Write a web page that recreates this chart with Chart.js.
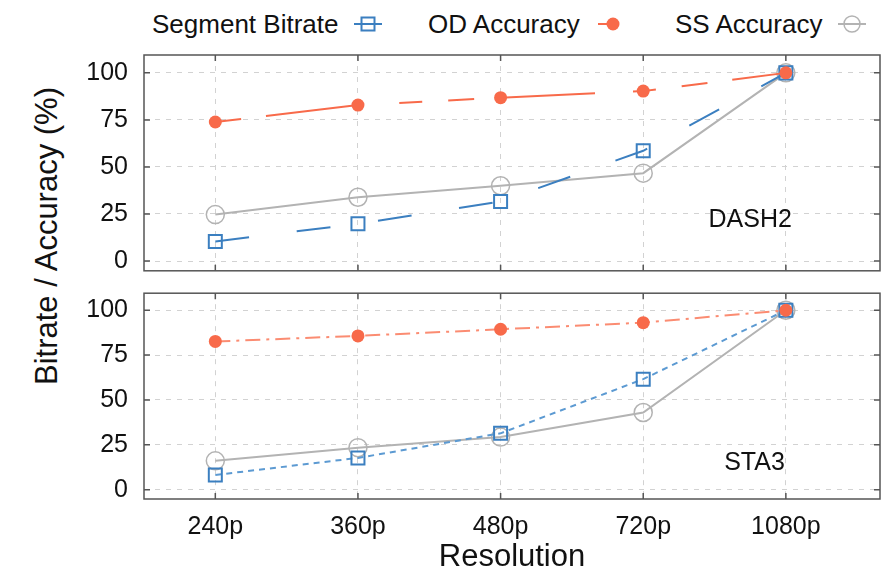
<!DOCTYPE html>
<html>
<head>
<meta charset="utf-8">
<script src="https://cdn.jsdelivr.net/npm/chart.js@4/dist/chart.umd.min.js"></script>
<style>
  body { margin: 0; background: #fff; }
  #wrap { position: relative; width: 896px; height: 576px; font-family: "Liberation Sans", Arial, sans-serif; color: #111; }
  canvas { position: absolute; left: 0; }
  .item { position: absolute; top: 9px; height: 30px; line-height: 30px; font-size: 26px; display: flex; align-items: center; white-space: nowrap; }
  .item svg { margin-left: 16px; }
  #ytitle { position: absolute; left: 47px; top: 236px; transform: translate(-50%, -50%) rotate(-90deg); font-size: 31px; white-space: nowrap; }
</style>
</head>
<body>
<div id="wrap">
  <div class="item" style="left:152px">Segment Bitrate
    <svg width="28" height="20"><line x1="0" y1="10" x2="28" y2="10" stroke="#3b7fc0" stroke-width="2"/><rect x="7.5" y="3.5" width="13" height="13" fill="none" stroke="#3b7fc0" stroke-width="2"/></svg>
  </div>
  <div class="item" style="left:428px">OD Accuracy
    <svg width="28" height="20"><line x1="2" y1="10" x2="17" y2="10" stroke="#f86a4a" stroke-width="2"/><circle cx="17" cy="10" r="6.5" fill="#f86a4a"/></svg>
  </div>
  <div class="item" style="left:675px">SS Accuracy
    <svg width="28" height="20"><line x1="0" y1="10" x2="28" y2="10" stroke="#b3b3b3" stroke-width="2"/><circle cx="14" cy="10" r="8" fill="none" stroke="#b3b3b3" stroke-width="1.5"/></svg>
  </div>
  <div id="ytitle">Bitrate / Accuracy (%)</div>
  <canvas id="chartDash" width="896" height="282" style="top:0"></canvas>
  <canvas id="chartSta" width="896" height="294" style="top:282px"></canvas>
</div>
<script>
const resolutions = ["240p", "360p", "480p", "720p", "1080p"];
const yTickValues = [0, 25, 50, 75, 100];

// DASH2 panel
const dashBitrate = [10.4, 19.8, 31.6, 58.6, 100];
const dashOd = [73.9, 82.9, 86.8, 90.3, 100];
const dashSs = [24.7, 33.9, 40.0, 46.7, 100];

// STA3 panel
const staBitrate = [8.2, 17.7, 31.4, 61.6, 100];
const staOd = [82.6, 85.7, 89.4, 93.1, 100];
const staSs = [16.1, 23.4, 29.3, 43.0, 100];

const BLUE = "#3b7fc0";
const ORANGE = "#f86a4a";
const GRAY = "#b3b3b3";
const FONT = "'Liberation Sans', Arial, sans-serif";

function toPoints(values) {
  return values.map((v, i) => ({ x: i, y: v }));
}

function noPadding(s) {
  s.paddingTop = 0;
  s.paddingBottom = 0;
  s.paddingLeft = 0;
  s.paddingRight = 0;
}

// frame with inward ticks, plus the panel name
const framePlugin = {
  id: "frame",
  afterDraw(chart, args, opts) {
    const { ctx, chartArea: a, scales } = chart;
    ctx.save();
    ctx.strokeStyle = "#555";
    ctx.lineWidth = 1.5;
    ctx.strokeRect(a.left, a.top, a.right - a.left, a.bottom - a.top);
    ctx.beginPath();
    scales.x.ticks.forEach((t) => {
      const px = scales.x.getPixelForValue(t.value);
      ctx.moveTo(px, a.top); ctx.lineTo(px, a.top + 6);
      ctx.moveTo(px, a.bottom); ctx.lineTo(px, a.bottom - 6);
    });
    scales.y.ticks.forEach((t) => {
      const py = scales.y.getPixelForValue(t.value);
      ctx.moveTo(a.left, py); ctx.lineTo(a.left + 6, py);
      ctx.moveTo(a.right, py); ctx.lineTo(a.right - 6, py);
    });
    ctx.stroke();
    if (opts.label) {
      ctx.fillStyle = "#111";
      ctx.font = "25px " + FONT;
      ctx.textAlign = "center";
      ctx.textBaseline = "middle";
      ctx.fillText(opts.label.text,
        scales.x.getPixelForValue(opts.label.x),
        scales.y.getPixelForValue(opts.label.y));
    }
    ctx.restore();
  },
};

function makePanel(canvasId, datasets, label, bottomAxis) {
  return new Chart(document.getElementById(canvasId), {
    type: "line",
    data: { datasets },
    plugins: [framePlugin],
    options: {
      responsive: false,
      animation: false,
      devicePixelRatio: 1,
      layout: { padding: { top: bottomAxis ? 9 : 55, right: 16, left: 0, bottom: 0 } },
      plugins: {
        legend: { display: false },
        tooltip: { enabled: false },
        frame: { label },
      },
      scales: {
        x: {
          type: "linear",
          min: -0.5,
          max: 4.66,
          afterBuildTicks: (s) => { s.ticks = resolutions.map((_, i) => ({ value: i })); },
          afterFit: (s) => { s.height = bottomAxis ? 77 : 9; noPadding(s); },
          ticks: {
            display: bottomAxis,
            callback: (v) => resolutions[v] ?? "",
            color: "#111",
            font: { family: FONT, size: 25 },
            padding: 13,
            maxRotation: 0,
          },
          grid: { color: "#d2d2d2", lineWidth: 1, drawTicks: false },
          border: { display: false, dash: [5, 6] },
          title: {
            display: bottomAxis,
            text: "Resolution",
            color: "#111",
            font: { family: FONT, size: 31, lineHeight: 1.2 },
            padding: { top: 0, bottom: 0 },
          },
        },
        y: {
          min: -5.2,
          max: 109.5,
          afterBuildTicks: (s) => { s.ticks = yTickValues.map((v) => ({ value: v })); },
          afterFit: (s) => { s.width = 144; noPadding(s); },
          ticks: {
            color: "#111",
            font: { family: FONT, size: 25 },
            padding: 16,
          },
          grid: { color: "#d2d2d2", lineWidth: 1, drawTicks: false },
          border: { display: false, dash: [5, 6] },
        },
      },
    },
  });
}

makePanel("chartDash", [
  {
    label: "OD Accuracy",
    data: toPoints(dashOd),
    borderColor: ORANGE,
    backgroundColor: ORANGE,
    borderWidth: 2,
    borderDash: [96, 38, 23, 26, 26, 25],
    borderDashOffset: 183,
    pointStyle: "circle",
    pointRadius: 6.5,
    pointBorderWidth: 0,
  },
  {
    label: "Segment Bitrate",
    data: toPoints(dashBitrate),
    borderColor: BLUE,
    backgroundColor: "rgba(0,0,0,0)",
    borderWidth: 2,
    borderDash: [34, 48],
    pointStyle: "rect",
    pointRadius: 9.2,
    pointBorderWidth: 2,
  },
  {
    label: "SS Accuracy",
    data: toPoints(dashSs),
    borderColor: GRAY,
    backgroundColor: "rgba(0,0,0,0)",
    borderWidth: 2,
    pointStyle: "circle",
    pointRadius: 9,
    pointBorderWidth: 1.5,
  },
], { text: "DASH2", x: 3.75, y: 22 }, false);

makePanel("chartSta", [
  {
    label: "OD Accuracy",
    data: toPoints(staOd),
    borderColor: "#fb8c72",
    backgroundColor: ORANGE,
    pointBorderColor: ORANGE,
    borderWidth: 2,
    borderDash: [15, 6, 3, 6],
    pointStyle: "circle",
    pointRadius: 6.5,
    pointBorderWidth: 0,
  },
  {
    label: "Segment Bitrate",
    data: toPoints(staBitrate),
    borderColor: "#5c9ad2",
    backgroundColor: "rgba(0,0,0,0)",
    pointBorderColor: BLUE,
    borderWidth: 2,
    borderDash: [6, 5],
    pointStyle: "rect",
    pointRadius: 9.2,
    pointBorderWidth: 2,
  },
  {
    label: "SS Accuracy",
    data: toPoints(staSs),
    borderColor: GRAY,
    backgroundColor: "rgba(0,0,0,0)",
    borderWidth: 2,
    pointStyle: "circle",
    pointRadius: 9,
    pointBorderWidth: 1.5,
  },
], { text: "STA3", x: 3.78, y: 14.6 }, true);
</script>
</body>
</html>
